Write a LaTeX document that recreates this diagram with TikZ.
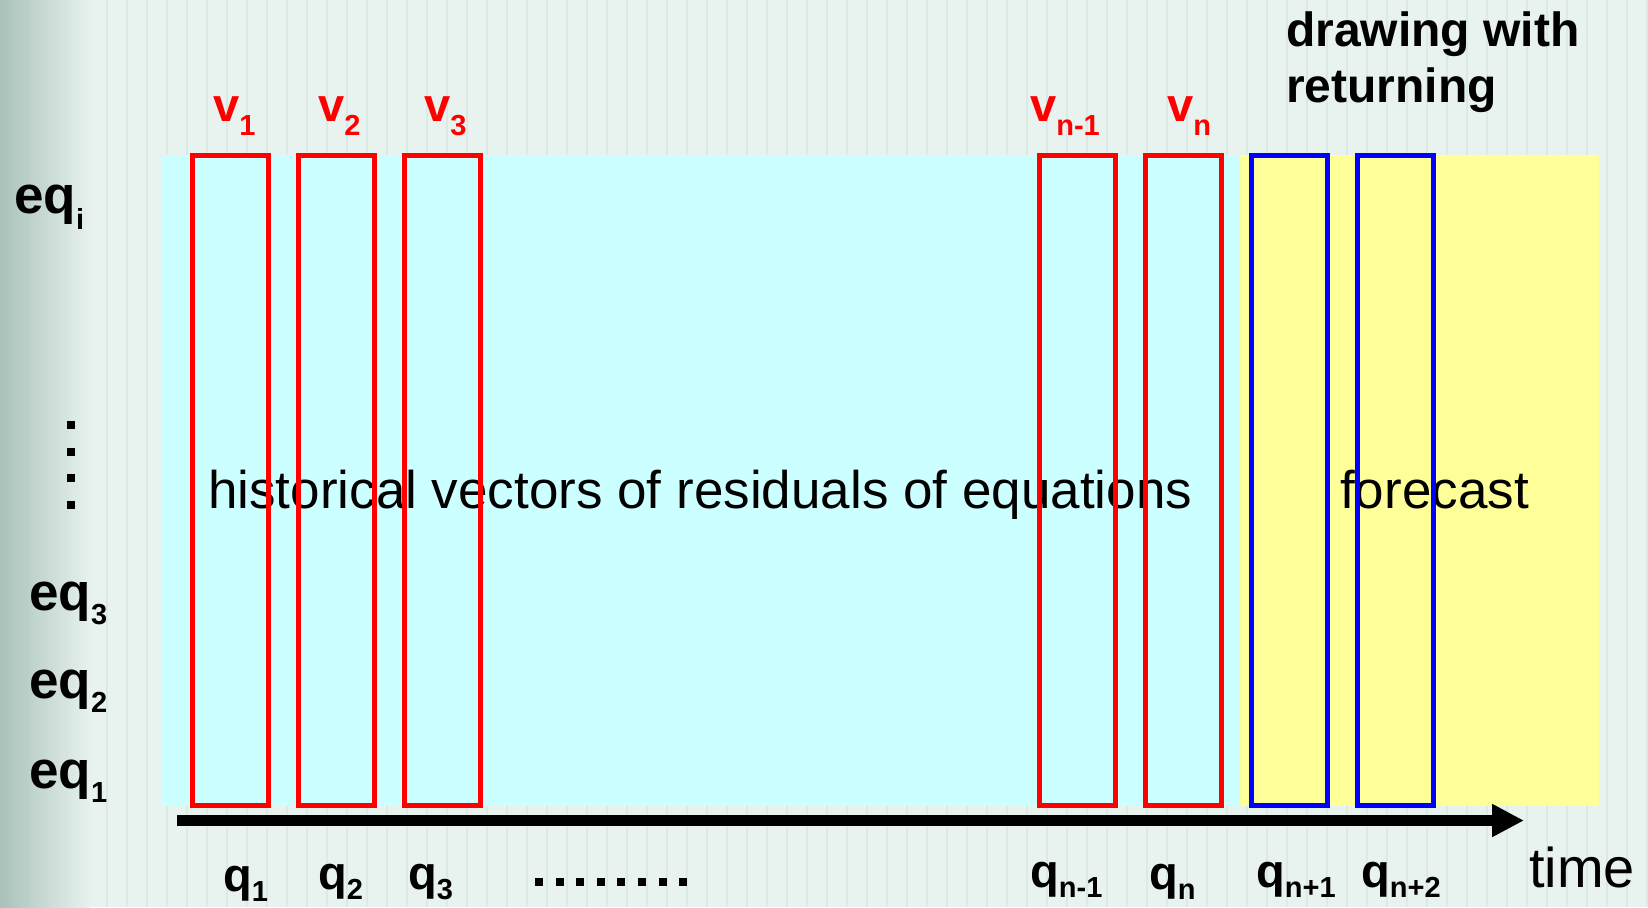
\documentclass[tikz,border=0pt]{standalone}
\usepackage{fontspec}
\setmainfont{Liberation Sans}
\usepackage{xcolor}
\usetikzlibrary{arrows.meta, positioning}

\definecolor{bgpale}{HTML}{E8F2EE}
\definecolor{bgedge}{HTML}{A3BDB5}
\definecolor{bgstripe}{HTML}{DDE9E4}
\definecolor{histfill}{HTML}{CCFFFF}
\definecolor{forefill}{HTML}{FFFF99}

\newcommand{\idx}[2][14pt]{\raisebox{-#1}{\fontsize{29}{29}\selectfont #2}}

\begin{document}
\begin{tikzpicture}[
  x=1pt, y=-1pt,
  lbl/.style={font=\fontsize{47}{55}\selectfont\bfseries, inner sep=0pt, anchor=base west},
  vlbl/.style={lbl, text=red},
  eqlbl/.style={lbl, font=\fontsize{53}{60}\selectfont\bfseries},
  plain/.style={font=\fontsize{53}{60}\selectfont, inner sep=0pt, anchor=base west},
  pastbox/.style={draw=red, line width=5pt, minimum width=76pt, minimum height=650pt,
    inner sep=0pt, outer sep=0pt, anchor=north west},
  futurebox/.style={pastbox, draw=blue}
]
  % background
  \useasboundingbox (0,0) rectangle (1648,907);
  \fill[bgpale] (0,0) rectangle (1648,907);
  \foreach \x in {6,26,...,1646}
    \fill[bgstripe] (\x,0) rectangle +(1.5,907);
  \shade[left color=bgedge, right color=bgpale, opacity=0.9] (0,0) rectangle (90,907);

  % areas
  \fill[histfill] (162,155) rectangle (1244,806);
  \fill[forefill] (1240,155) rectangle (1599,806);

  \node[plain] (histtext) at (208,508) {historical vectors of residuals of equations};
  \node[plain] (foretext) at (1340,508) {forecast};

  % vectors
  \node[pastbox] (b1) at (192,155) {};
  \node[pastbox] (b2) at (298,155) {};
  \node[pastbox] (b3) at (404,155) {};
  \node[pastbox] (bnm) at (1039,155) {};
  \node[pastbox] (bn) at (1145,155) {};
  \node[futurebox] (bnp) at (1251,155) {};
  \node[futurebox] (bnpp) at (1357,155) {};

  \node[vlbl] (v1) at (213,121) {v\idx{1}};
  \node[vlbl] (v2) at (318,121) {v\idx{2}};
  \node[vlbl] (v3) at (424,121) {v\idx{3}};
  \node[vlbl] (vnm) at (1030,121) {v\idx{n-1}};
  \node[vlbl] (vn) at (1167,121) {v\idx{n}};

  \node[lbl, font=\fontsize{48}{55}\selectfont\bfseries] (draw1) at (1286,47) {drawing with};
  \node[lbl, font=\fontsize{48}{55}\selectfont\bfseries] (draw2) at (1286,102) {returning};

  % equations
  \node[eqlbl] (eqi) at (14,213) {eq\idx[16pt]{i}};
  \foreach \y in {425,452,478,505}
    \fill (67,\y-4) rectangle +(8,8);
  \node[eqlbl] (eq3) at (29,610) {eq\idx{3}};
  \node[eqlbl] (eq2) at (29,698) {eq\idx{2}};
  \node[eqlbl] (eq1) at (29,788) {eq\idx{1}};

  % time axis
  \coordinate (tstart) at (177,820.5);
  \coordinate (tend) at (1524,820.5);
  \draw[line width=11pt, -{Triangle[length=32pt, width=31pt]}] (tstart) -- (tend);

  \node[lbl] (q1) at (223,891) {q\idx[10pt]{1}};
  \node[lbl] (q2) at (318,889) {q\idx[10pt]{2}};
  \node[lbl] (q3) at (408,889) {q\idx[10pt]{3}};
  \foreach \x in {0,...,7}
    \fill (535+20.6*\x,878) rectangle +(8,8);
  \node[lbl] (qnm) at (1030,887) {q\idx[10pt]{n-1}};
  \node[lbl] (qn) at (1149,889) {q\idx[10pt]{n}};
  \node[lbl] (qnp) at (1256,887) {q\idx[10pt]{n+1}};
  \node[lbl] (qnpp) at (1361,887) {q\idx[10pt]{n+2}};
  \node[plain, font=\fontsize{56}{60}\selectfont] (timelbl) at (1529,887) {time};
\end{tikzpicture}
\end{document}
